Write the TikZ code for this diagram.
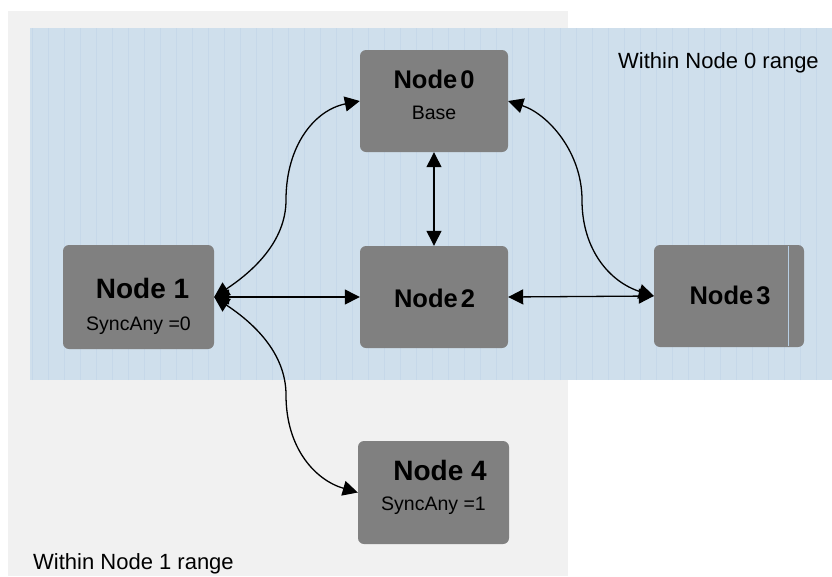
\documentclass[tikz,border=0pt]{standalone}
\usepackage{fontspec}
\setmainfont{Liberation Sans}
\usetikzlibrary{arrows.meta}
\definecolor{bggray}{RGB}{241,241,241}
\definecolor{bgblue}{RGB}{207,223,236}
\definecolor{gridblue}{RGB}{184,207,228}
\definecolor{gridlight}{RGB}{198,216,233}
\definecolor{boxgray}{RGB}{128,128,128}
\tikzset{
  box/.style={draw=none, fill=boxgray, rounded corners=6pt, inner sep=0pt},
  ttl/.style={anchor=base, inner sep=0pt, font=\fontsize{25.5}{30}\selectfont\bfseries},
  ttlbig/.style={anchor=base, inner sep=0pt, font=\fontsize{28}{32}\selectfont\bfseries},
  sub/.style={anchor=base, inner sep=0pt, font=\fontsize{19.5}{23}\selectfont},
  rng/.style={anchor=base west, inner sep=0pt, font=\fontsize{22}{26}\selectfont},
  link/.style={line width=1.3pt, {Triangle[length=15pt,width=15pt]}-{Triangle[length=15pt,width=15pt]}}
}
\begin{document}
\begin{tikzpicture}[x=1pt,y=-1pt]
\useasboundingbox (0,0) rectangle (832,576);
% backgrounds
\fill[bggray] (8,11) rectangle (568,576);
\fill[bgblue] (30,28) rectangle (832,380);
\begin{scope}
\clip (30,28) rectangle (832,380);
\draw[gridlight, line width=0.4pt, xstep=16, ystep=1000] (30,28) grid (832,380);
\draw[gridblue, line width=0.6pt, xstep=1000, ystep=8] (30,28) grid (832,380);
\end{scope}
% boxes
\node[box, minimum width=148pt, minimum height=102pt] (n0) at (434,101) {};
\node[box, minimum width=151pt, minimum height=104pt] (n1) at (138.5,297) {};
\node[box, minimum width=148pt, minimum height=102pt] (n2) at (434,297) {};
\node[box, minimum width=150pt, minimum height=102pt] (n3) at (729,296) {};
\node[box, minimum width=151pt, minimum height=103pt] (n4) at (433.5,492.5) {};
\draw[gridblue, line width=0.8pt] (n3.north east) ++(-16,1) coordinate (l3a) -- ++(0,100) coordinate (l3b);
% texts
\node[ttl] (t0) at (434,88) {Node\hspace{0.12em}0};
\node[sub] (s0) at (434,119) {Base};
\node[ttlbig] (t1) at (142.5,298) {Node 1};
\node[sub] (s1) at (138.5,330) {SyncAny =0};
\node[ttl] (t2) at (434.5,307) {Node\hspace{0.12em}2};
\node[ttl] (t3) at (730,304) {Node\hspace{0.12em}3};
\node[ttlbig] (t4) at (440,480) {Node 4};
\node[sub] (s4) at (433.5,510) {SyncAny =1};
\node[rng] (r0) at (618,68) {Within Node 0 range};
\node[rng] (r1) at (33,569) {Within Node 1 range};
% connectors
\draw[link] (n1.east) -- (n2.west);
\draw[link] (n2.east) -- (n3.west);
\draw[link] (n0.south) -- (n2.north);
\draw[link] (n1.east) .. controls (252,272) and (286,242) .. (286,200)
  .. controls (286,145) and (315,110) .. (n0.west);
\draw[link] (n0.east) .. controls (548,114) and (582,152) .. (582,200)
  .. controls (582,250) and (610,282) .. (n3.west);
\draw[link] (n1.east) .. controls (252,322) and (286,352) .. (286,395)
  .. controls (286,448) and (315,480) .. (n4.west);
\end{tikzpicture}
\end{document}
